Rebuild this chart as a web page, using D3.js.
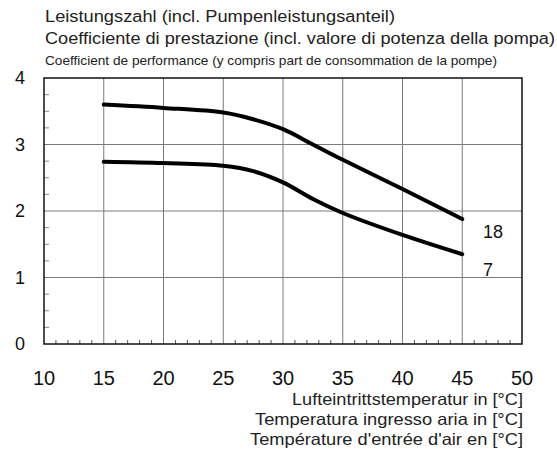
<!DOCTYPE html>
<html>
<head>
<meta charset="utf-8">
<script src="https://cdn.jsdelivr.net/npm/d3@7"></script>
<style>
  html, body { margin: 0; padding: 0; background: #fff; }
  svg { display: block; font-family: "Liberation Sans", Arial, sans-serif; }
</style>
</head>
<body>
<svg id="chart" width="557" height="452"></svg>
<script>
// Air inlet temperature [°C]
const temps = [15, 20, 25, 27.5, 30, 32.5, 35, 40, 45];
// COP curves, labelled by water flow temperature
const cop18 = [3.60, 3.55, 3.48, 3.38, 3.23, 3.00, 2.77, 2.33, 1.88];
const cop7 = [2.74, 2.72, 2.68, 2.60, 2.43, 2.18, 1.97, 1.64, 1.35];
const seriesNames = ['18', '7'];

const xTicks = [10, 15, 20, 25, 30, 35, 40, 45, 50];
const yTicks = [0, 1, 2, 3, 4];

const titleLines = [
  'Leistungszahl (incl. Pumpenleistungsanteil)',
  'Coefficiente di prestazione (incl. valore di potenza della pompa)',
  'Coefficient de performance (y compris part de consommation de la pompe)'
];
const xTitleLines = [
  'Lufteintrittstemperatur in [°C]',
  'Temperatura ingresso aria in [°C]',
  "Température d'entrée d'air en [°C]"
];

const svg = d3.select('#chart');
const margin = { top: 78, right: 35, bottom: 108, left: 44 };
const W = 557, H = 452;
const width = W - margin.left - margin.right;
const height = H - margin.top - margin.bottom;

const x = d3.scaleLinear().domain([10, 50]).range([margin.left, margin.left + width]);
const y = d3.scaleLinear().domain([0, 4]).range([margin.top + height, margin.top]);

// grid
const grid = svg.append('g');
xTicks.slice(1, -1).forEach(t => {
  grid.append('line')
    .attr('x1', x(t)).attr('x2', x(t))
    .attr('y1', y(4)).attr('y2', y(0))
    .style('stroke', '#7a7a7a').style('stroke-width', 1);
});
yTicks.slice(1, -1).forEach(t => {
  grid.append('line')
    .attr('x1', x(10)).attr('x2', x(50))
    .attr('y1', y(t)).attr('y2', y(t))
    .style('stroke', '#7a7a7a').style('stroke-width', 1);
});

// minor ticks
d3.range(11, 50).filter(v => v % 5 !== 0).forEach(v => {
  grid.append('line')
    .attr('x1', x(v)).attr('x2', x(v))
    .attr('y1', y(0)).attr('y2', y(0) - 4)
    .style('stroke', '#555').style('stroke-width', 1);
});
d3.range(0.25, 4, 0.25).filter(v => v % 1 !== 0).forEach(v => {
  grid.append('line')
    .attr('x1', x(10)).attr('x2', x(10) + 5)
    .attr('y1', y(v)).attr('y2', y(v))
    .style('stroke', '#888').style('stroke-width', 1);
});

// frame
svg.append('rect')
  .attr('x', x(10)).attr('y', y(4))
  .attr('width', x(50) - x(10)).attr('height', y(0) - y(4))
  .style('fill', 'none').style('stroke', '#111').style('stroke-width', 1.5);

// tick labels
svg.append('g').selectAll('text')
  .data(xTicks).enter().append('text')
  .attr('x', d => x(d)).attr('y', 385)
  .attr('text-anchor', 'middle')
  .style('font-size', '20px').style('fill', '#111')
  .text(d => d);

svg.append('g').selectAll('text')
  .data(yTicks).enter().append('text')
  .attr('x', 25).attr('y', d => y(d))
  .attr('dy', '0.36em')
  .attr('text-anchor', 'end')
  .style('font-size', '18px').style('fill', '#111')
  .text(d => d);

// curves
const line = d3.line()
  .x(d => x(d[0]))
  .y(d => y(d[1]))
  .curve(d3.curveCatmullRom.alpha(0.5));

[cop18, cop7].forEach(vals => {
  svg.append('path')
    .datum(temps.map((t, i) => [t, vals[i]]))
    .attr('d', line)
    .style('fill', 'none')
    .style('stroke', '#000')
    .style('stroke-width', 4)
    .style('stroke-linecap', 'round')
    .style('stroke-linejoin', 'round');
});

// series labels
svg.append('text').attr('x', 483).attr('y', 238)
  .style('font-size', '18px').style('fill', '#111').text(seriesNames[0]);
svg.append('text').attr('x', 483).attr('y', 276)
  .style('font-size', '18px').style('fill', '#111').text(seriesNames[1]);

// titles (reference type is wider than Liberation Sans, so fit the widths)
const titleY = [22, 44, 65];
const titleSize = ['16px', '16px', '13px'];
const titleLen = [350, 510, 452];
titleLines.forEach((t, i) => {
  svg.append('text')
    .attr('x', 45).attr('y', titleY[i])
    .attr('textLength', titleLen[i]).attr('lengthAdjust', 'spacingAndGlyphs')
    .style('font-size', titleSize[i]).style('fill', '#222')
    .text(t);
});

const xTitleY = [405, 425, 445];
const xTitleLen = [231, 268, 273];
xTitleLines.forEach((t, i) => {
  svg.append('text')
    .attr('x', 523).attr('y', xTitleY[i])
    .attr('text-anchor', 'end')
    .attr('textLength', xTitleLen[i]).attr('lengthAdjust', 'spacingAndGlyphs')
    .style('font-size', '16.5px').style('fill', '#222')
    .text(t);
});
</script>
</body>
</html>
